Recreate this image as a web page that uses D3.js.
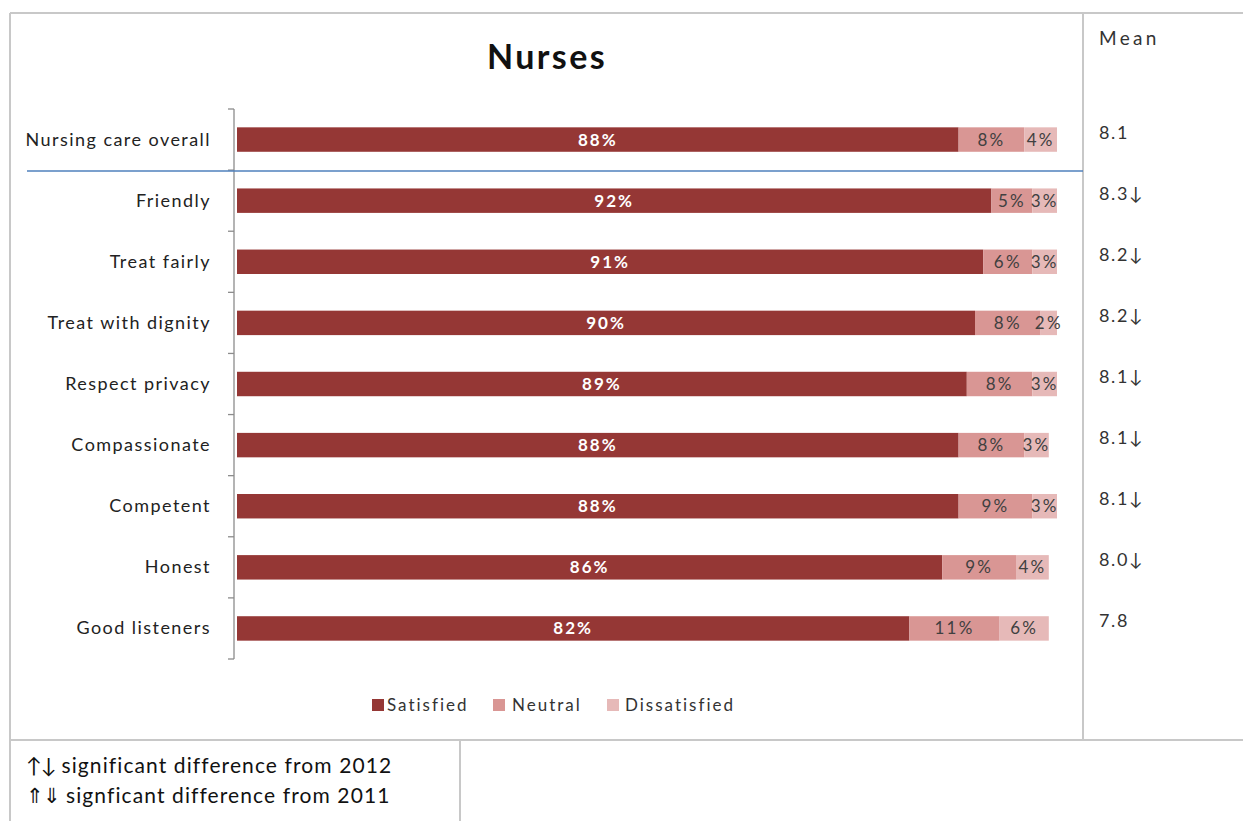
<!DOCTYPE html>
<html>
<head>
<meta charset="utf-8">
<script src="https://cdn.jsdelivr.net/npm/d3@7"></script>
<style>
  html, body { margin: 0; padding: 0; background: #fff; }
  svg { display: block; font-family: Lato, "Open Sans", sans-serif; }
</style>
</head>
<body>
<svg id="chart" width="1243" height="821"></svg>
<script>
// Survey items, top to bottom
const categories = [
  "Nursing care overall", "Friendly", "Treat fairly", "Treat with dignity",
  "Respect privacy", "Compassionate", "Competent", "Honest", "Good listeners"
];
const satisfied    = [88, 92, 91, 90, 89, 88, 88, 86, 82];
const neutral      = [8, 5, 6, 8, 8, 8, 9, 9, 11];
const dissatisfied = [4, 3, 3, 2, 3, 3, 3, 4, 6];
const means        = ["8.1", "8.3", "8.2", "8.2", "8.1", "8.1", "8.1", "8.0", "7.8"];
const meanFlags    = ["", "↓", "↓", "↓", "↓", "↓", "↓", "↓", ""];
const seriesNames  = ["Satisfied", "Neutral", "Dissatisfied"];
const seriesColors = ["#953735", "#d99694", "#e6b9b8"];
const noteSymbols = ["↑↓", "⇑⇓"];
const noteTexts   = ["significant difference from 2012", "signficant difference from 2011"];

const svg = d3.select("#chart");
const frame = "#c8c8c8";

// Frame lines around chart, mean column and notes
const lines = [
  [10, 13, 1243, 13], [10, 13, 10, 740], [1083, 13, 1083, 740],
  [10, 740, 1243, 740], [10, 740, 10, 821], [460, 740, 460, 821]
];
svg.selectAll("line.frame").data(lines).join("line")
  .attr("class", "frame")
  .attr("x1", d => d[0]).attr("y1", d => d[1])
  .attr("x2", d => d[2]).attr("y2", d => d[3])
  .attr("stroke", frame).attr("stroke-width", 2);

// Title
svg.append("text").attr("x", 547).attr("y", 69)
  .attr("text-anchor", "middle").attr("font-size", 34).attr("font-weight", "bold")
  .attr("letter-spacing", 2.4)
  .attr("fill", "#111").text("Nurses");

// Scales
const x = d3.scaleLinear().domain([0, 100]).range([237, 1057]);
const y = d3.scaleBand().domain(categories).range([109, 659]).paddingInner(0.6).paddingOuter(0.3);
const step = y.step();

// Stack data
const rows = categories.map((c, i) => ({
  cat: c, Satisfied: satisfied[i], Neutral: neutral[i], Dissatisfied: dissatisfied[i]
}));
const stack = d3.stack().keys(seriesNames)(rows);

const g = svg.append("g");
stack.forEach((layer, li) => {
  const lg = g.append("g");
  lg.selectAll("rect").data(layer).join("rect")
    .attr("x", d => x(d[0]))
    .attr("y", d => y(d.data.cat))
    .attr("width", d => x(d[1]) - x(d[0]))
    .attr("height", y.bandwidth())
    .attr("fill", seriesColors[li]);
  lg.selectAll("text").data(layer).join("text")
    .attr("x", d => (x(d[0]) + x(d[1])) / 2)
    .attr("y", d => y(d.data.cat) + y.bandwidth() / 2 + 6)
    .attr("text-anchor", "middle")
    .attr("font-size", 17)
    .attr("letter-spacing", li === 0 ? 2 : 2.2)
    .attr("font-weight", li === 0 ? "bold" : "normal")
    .attr("fill", li === 0 ? "#ffffff" : "#404040")
    .text(d => (d[1] - d[0]) + "%");
});

// Category axis with ticks between bands
const axisX = 234;
svg.append("line").attr("x1", axisX).attr("x2", axisX)
  .attr("y1", 109).attr("y2", 659).attr("stroke", "#8c8c8c").attr("stroke-width", 1.3);
const tickYs = d3.range(categories.length + 1).map(i => 109 + i * step);
svg.selectAll("line.tick").data(tickYs).join("line")
  .attr("class", "tick")
  .attr("x1", axisX - 6).attr("x2", axisX)
  .attr("y1", d => d).attr("y2", d => d)
  .attr("stroke", "#8c8c8c").attr("stroke-width", 1.3);
svg.selectAll("text.cat").data(categories).join("text")
  .attr("class", "cat")
  .attr("x", 211)
  .attr("y", d => y(d) + y.bandwidth() / 2 + 6)
  .attr("text-anchor", "end")
  .attr("font-size", 18)
  .attr("letter-spacing", 1.45)
  .attr("fill", "#222")
  .text(d => d);

// Separator under the overall item
const sepY = 109 + step;
svg.append("line").attr("x1", 27).attr("x2", 1083)
  .attr("y1", sepY + 1).attr("y2", sepY + 1)
  .attr("stroke", "#4f81bd").attr("stroke-width", 1.5);

// Mean column
svg.append("text").attr("x", 1099).attr("y", 45)
  .attr("font-size", 19).attr("letter-spacing", 3.3).attr("fill", "#333").text("Mean");
svg.selectAll("text.mean").data(categories).join("text")
  .attr("class", "mean")
  .attr("x", 1099)
  .attr("y", d => y(d) + y.bandwidth() / 2 - 1)
  .attr("font-size", 18)
  .attr("letter-spacing", 1.6)
  .attr("fill", "#333")
  .text((d, i) => means[i] + meanFlags[i]);

// Legend
const legendX = [372, 493, 607];
const legendTextDx = [15, 19, 18];
const lgd = svg.selectAll("g.legend").data(seriesNames).join("g")
  .attr("class", "legend")
  .attr("transform", (d, i) => `translate(${legendX[i]},699)`);
lgd.append("rect").attr("width", 12).attr("height", 12).attr("fill", (d, i) => seriesColors[i]);
lgd.append("text").attr("x", (d, i) => legendTextDx[i]).attr("y", 12).attr("font-size", 17)
  .attr("letter-spacing", 2).attr("fill", "#333").text(d => d);

// Notes
const notes = svg.selectAll("text.note").data(noteTexts).join("text")
  .attr("class", "note")
  .attr("x", 26)
  .attr("y", (d, i) => 773 + i * 30)
  .attr("font-size", 21)
  .attr("fill", "#111");
notes.append("tspan").attr("letter-spacing", -1).text((d, i) => noteSymbols[i]);
notes.append("tspan").attr("dx", 6).attr("letter-spacing", 1.1).text(d => d);
</script>
</body>
</html>
